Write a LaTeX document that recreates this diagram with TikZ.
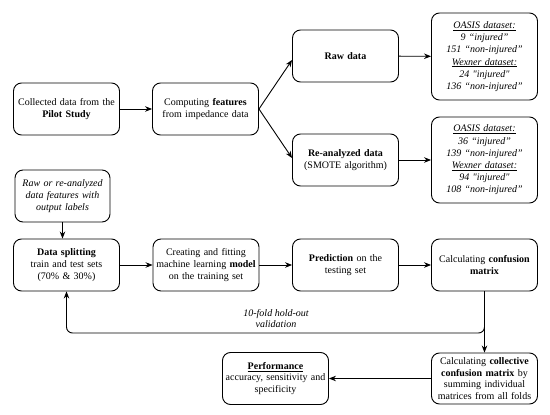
\documentclass[tikz,border=0pt]{standalone}
\usepackage{fontspec}
\setmainfont{Liberation Serif}
\usetikzlibrary{arrows.meta,calc}
\begin{document}
\begin{tikzpicture}[x=1pt,y=-1pt,
  box/.style={draw,line width=0.9pt,rounded corners=8pt,align=center,inner sep=0pt,
    font=\fontsize{10}{11.6}\selectfont,minimum width=105pt,minimum height=52pt,text width=106pt},
  dbox/.style={box,font=\fontsize{10}{12.2}\selectfont\itshape},
  arr/.style={-{Stealth[length=7pt,width=5.5pt]},line width=0.9pt}]
\useasboundingbox (0,0) rectangle (550,415);
\node[box] (col) at (66.5,109) {Collected data from the\\\textbf{Pilot Study}};
\node[box] (feat) at (205.5,109) {Computing \textbf{features}\\from impedance data};
\node[box] (raw) at (345.5,56) {\textbf{Raw data}};
\node[dbox,minimum height=87pt] (oas1) at (484.5,56.5) {\underline{OASIS dataset:}\\ 9 “injured”\\ 151 “non-injured”\\ \underline{Wexner dataset:}\\ 24 \textquotedbl injured\textquotedbl\\ 136 “non-injured”};
\node[box] (rea) at (345.5,160) {\textbf{Re-analyzed data}\\(SMOTE algorithm)};
\node[dbox,minimum height=86pt] (oas2) at (484.5,160) {\underline{OASIS dataset:}\\ 36 “injured”\\ 139 “non-injured”\\ \underline{Wexner dataset:}\\ 94 \textquotedbl injured\textquotedbl\\ 108 “non-injured”};
\node[box,minimum width=95pt,text width=95pt] (rawor) at (62.5,196) {\itshape Raw or re-analyzed\\ data features with\\ output labels};
\node[box,minimum width=103pt] (split) at (66.5,265) {\textbf{Data splitting}\\ train and test sets\\ (70\% \& 30\%)};
\node[box,minimum width=104pt] (create) at (206,265) {Creating and fitting\\ machine learning \textbf{model}\\ on the training set};
\node[box] (pred) at (345.5,265) {\textbf{Prediction} on the\\ testing set};
\node[box] (conf) at (484.5,265) {Calculating \textbf{confusion}\\ \textbf{matrix}};
\node[box,minimum height=51pt] (coll) at (484.5,378.5) {Calculating \textbf{collective}\\ \textbf{confusion matrix} by\\ summing individual\\ matrices from all folds};
\node[box] (perf) at (275.5,378.5) {\underline{\textbf{Performance}}\\ accuracy, sensitivity and\\ specificity};
\node[align=center,font=\fontsize{10}{11.6}\selectfont\itshape] (lbl) at (276,318.5) {10-fold hold-out\\ validation};
\coordinate (lp) at (485,333);
\draw[arr] (col) -- (feat);
\draw[arr] (feat.east) -- ($(raw.west)+(0,4)$);
\draw[arr] (feat.east) -- ($(rea.west)+(0,-2)$);
\draw[arr] (raw) -- (oas1);
\draw[arr] (rea) -- (oas2);
\draw[arr] (rawor) -- (rawor |- split.north);
\draw[arr] (split) -- (create);
\draw[arr] (create) -- (pred);
\draw[arr] (pred) -- (conf);
\draw[arr] (conf.south) -- (coll.north);
\draw[arr,rounded corners=6pt] (conf.south) -- (conf.south |- lp) -| (split.south);
\draw[arr] (coll) -- (perf);
\end{tikzpicture}
\end{document}
